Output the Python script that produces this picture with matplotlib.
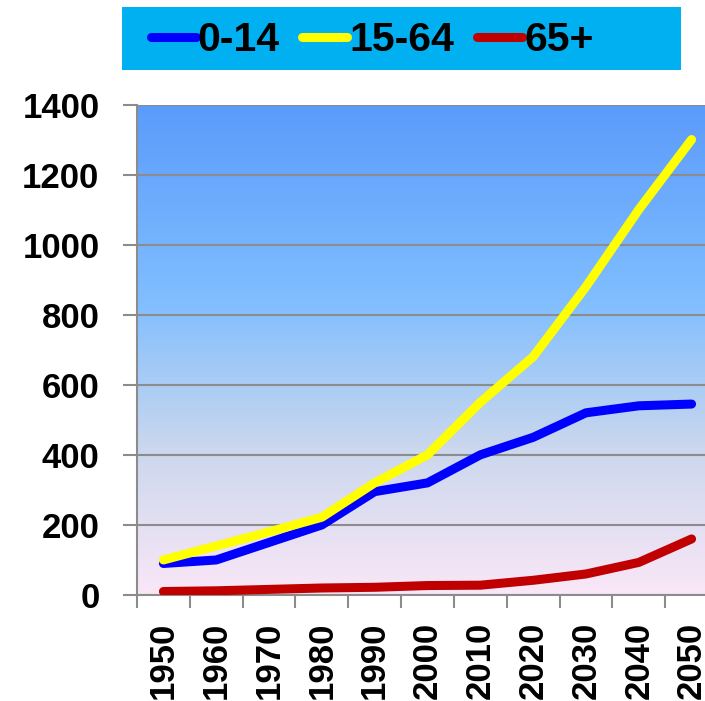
import numpy as np
import matplotlib
matplotlib.use("Agg")
import matplotlib.pyplot as plt
from matplotlib.colors import LinearSegmentedColormap
from matplotlib.patches import Rectangle

# Population by age group (millions)
years = ["1950", "1960", "1970", "1980", "1990", "2000",
         "2010", "2020", "2030", "2040", "2050"]
age_0_14 = [90, 100, 150, 200, 295, 320, 400, 450, 520, 540, 545]
age_15_64 = [100, 140, 180, 222, 320, 400, 550, 680, 880, 1100, 1300]
age_65_plus = [10, 12, 16, 20, 22, 27, 28, 42, 60, 93, 160]
series_labels = ["0-14", "15-64", "65+"]
series_colors = ["#0000FF", "#FFFF00", "#C00000"]
y_ticks = [0, 200, 400, 600, 800, 1000, 1200, 1400]

W, H = 705, 701
fig = plt.figure(figsize=(W / 100, H / 100), dpi=100)
fig.patch.set_facecolor("white")

left, right, top, bottom = 137, 718, 104.5, 595
ax = fig.add_axes([left / W, 1 - bottom / H, (right - left) / W, (bottom - top) / H])

# vertical background gradient: blue at top fading to pale pink
grad_cmap = LinearSegmentedColormap.from_list(
    "bg",
    [(0.0, (91/255, 155/255, 251/255)),
     (0.4, (128/255, 190/255, 255/255)),
     (0.7, (202/255, 215/255, 237/255)),
     (1.0, (250/255, 231/255, 247/255))])
gradient = np.linspace(0, 1, 256).reshape(-1, 1)
ax.imshow(gradient, cmap=grad_cmap, aspect="auto", extent=[0, 1, 0, 1],
          transform=ax.transAxes, zorder=0, interpolation="bilinear")

x = np.arange(len(years))
lw = 6.5
for vals, lab, col in zip([age_0_14, age_15_64, age_65_plus], series_labels, series_colors):
    ax.plot(x, vals, color=col, lw=lw, label=lab, solid_capstyle="round",
            solid_joinstyle="round", zorder=3)

ax.set_xlim(-0.5, len(years) - 0.5)
ax.set_ylim(0, 1400)
ax.set_yticks(y_ticks)
ax.set_yticklabels([str(v) for v in y_ticks])
ax.set_xticks(np.arange(-0.5, len(years) - 0.5 + 0.01, 1.0), minor=False)
ax.set_xticklabels([""] * (len(years) + 1))
ax.set_xticks(x, minor=True)
ax.set_xticklabels(years, minor=True, rotation=90)

for lbl in ax.get_yticklabels() + ax.get_xticklabels(minor=True):
    lbl.set_fontfamily("Liberation Sans")
    lbl.set_fontweight("bold")
    lbl.set_fontsize(25)

ax.tick_params(axis="y", which="major", length=10, width=1.5, color="#8C8C8C", pad=17)
ax.tick_params(axis="x", which="major", length=9, width=1.5, color="#8C8C8C")
ax.tick_params(axis="x", which="minor", length=0, pad=19)

ax.grid(axis="y", color="#8C8C8C", lw=1.5, zorder=1)
ax.set_axisbelow(False)
for s in ["top", "right"]:
    ax.spines[s].set_visible(False)
for s in ["left", "bottom"]:
    ax.spines[s].set_color("#8C8C8C")
    ax.spines[s].set_linewidth(1.5)
    ax.spines[s].set_zorder(2)

# legend panel
fig.patches.append(Rectangle((122 / W, 1 - 70 / H), (681 - 122) / W, 63 / H,
                             transform=fig.transFigure, facecolor="#00B0F0",
                             edgecolor="none", zorder=0))
leg = fig.legend(loc="center", bbox_to_anchor=(372 / W, 1 - 40 / H), ncol=3,
                 frameon=False, handlelength=1.1, handletextpad=0.05,
                 columnspacing=0.55,
                 prop={"family": "Liberation Sans", "weight": "bold", "size": 29.5})
for h in leg.get_lines():
    h.set_linewidth(6.5)
    h.set_solid_capstyle("round")

fig.savefig("out.png", dpi=100)
